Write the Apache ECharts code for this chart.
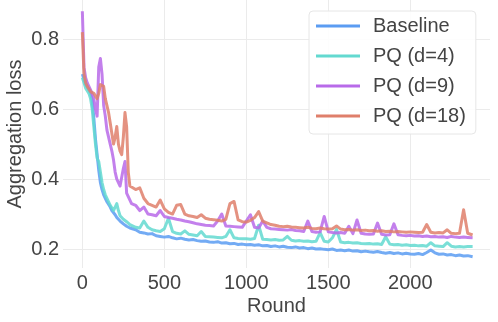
<!DOCTYPE html>
<html>
<head>
<meta charset="utf-8">
<script src="https://cdn.jsdelivr.net/npm/echarts@6/dist/echarts.min.js"></script>
<style>
  html, body { margin: 0; padding: 0; background: #fff; }
  #main { width: 498px; height: 322px; }
</style>
</head>
<body>
<div id="main"></div>
<script>
const rounds = [0, 10, 20, 30, 40, 50, 60, 70, 80, 90, 100, 110, 120, 130, 140, 150, 160, 170, 180, 190,
  200, 210, 220, 230, 240, 250, 260, 270, 280, 290, 300,
  325, 350, 375, 400, 425, 450, 475, 500, 525, 550, 575, 600, 625, 650, 675, 700, 725, 750, 775,
  800, 825, 850, 875, 900, 925, 950, 975, 1000, 1025, 1050, 1075, 1100, 1125, 1150, 1175, 1200, 1225, 1250, 1275,
  1300, 1325, 1350, 1375, 1400, 1425, 1450, 1475, 1500, 1525, 1550, 1575, 1600, 1625, 1650, 1675, 1700, 1725, 1750, 1775,
  1800, 1825, 1850, 1875, 1900, 1925, 1950, 1975, 2000, 2025, 2050, 2075, 2100, 2125, 2150, 2175, 2200, 2225, 2250, 2275,
  2300, 2325, 2350, 2380];

const baseline = [.70, .685, .67, .665, .655, .645, .625, .575, .515, .47, .425, .39, .37, .355, .345, .335, .33, .32, .31, .305,
  .298, .29, .285, .28, .275, .272, .268, .265, .262, .26, .258,
  .255, .248, .246, .243, .244, .238, .236, .234, .236, .232, .229, .231, .228, .226, .227, .224, .222, .223, .220,
  .219, .221, .217, .218, .215, .216, .213, .214, .212, .213, .211, .212, .209, .21, .207, .209, .206, .208, .205, .204,
  .206, .203, .204, .201, .203, .2, .201, .199, .198, .2, .196, .197, .195, .197, .194, .195, .192, .194, .192, .191,
  .193, .19, .188, .19, .187, .189, .186, .188, .186, .185, .187, .184, .19, .197, .189, .185, .186, .183, .184, .181,
  .183, .18, .181, .178];

const pqD4 = [.69, .675, .66, .655, .645, .63, .60, .55, .50, .46, .45, .42, .39, .37, .355, .345, .335, .325, .318, .31,
  .305, .33, .31, .295, .29, .285, .28, .278, .275, .27, .268,
  .262, .26, .28, .262, .255, .252, .25, .258, .288, .25, .245, .243, .252, .242, .24, .238, .25, .236, .235,
  .234, .233, .232, .236, .255, .232, .23, .229, .229, .228, .23, .268, .228, .227, .226, .227, .225, .226, .236, .225,
  .223, .224, .222, .223, .221, .222, .247, .222, .22, .232, .256, .22, .218, .219, .217, .218, .216, .215, .216, .214,
  .215, .213, .235, .214, .212, .213, .211, .212, .21, .211, .209, .21, .208, .218, .209, .208, .207, .218, .208, .206,
  .207, .206, .207, .207];

const pqD9 = [.88, .72, .69, .675, .665, .655, .65, .63, .60, .58, .72, .745, .70, .61, .58, .54, .52, .50, .48, .455,
  .42, .40, .39, .38, .385, .43, .45, .36, .35, .34, .33,
  .325, .31, .32, .30, .298, .295, .31, .293, .29, .288, .285, .283, .28, .278, .275, .272, .27, .268, .267,
  .266, .28, .30, .266, .265, .264, .263, .262, .28, .298, .262, .26, .28, .262, .258, .257, .256, .255, .254, .256,
  .253, .252, .25, .28, .25, .248, .249, .293, .249, .247, .246, .247, .245, .265, .244, .283, .245, .243, .242, .243,
  .274, .242, .24, .241, .272, .241, .239, .238, .239, .237, .238, .236, .237, .235, .236, .234, .235, .233, .236, .234,
  .233, .234, .233, .232];

const pqD18 = [.82, .70, .675, .665, .66, .65, .648, .645, .64, .63, .645, .67, .675, .665, .63, .61, .59, .56, .53, .50,
  .52, .55, .50, .48, .47, .52, .59, .55, .42, .38, .375,
  .37, .375, .345, .33, .325, .32, .34, .315, .305, .30, .325, .327, .30, .295, .293, .29, .298, .288, .285,
  .284, .282, .28, .285, .33, .336, .283, .278, .277, .282, .29, .307, .28, .275, .27, .268, .265, .264, .265, .263,
  .262, .261, .26, .262, .259, .258, .26, .258, .257, .258, .266, .257, .255, .256, .254, .255, .253, .254, .252, .253,
  .251, .252, .25, .251, .249, .25, .249, .248, .249, .248, .247, .248, .27, .248, .246, .247, .246, .255, .245, .244,
  .245, .312, .245, .24];

const seriesNames = ['Baseline', 'PQ (d=4)', 'PQ (d=9)', 'PQ (d=18)'];
const seriesColors = ['#5b9cf2', '#63d9d0', '#b86ae9', '#df7f6b'];
const xTicks = [0, 500, 1000, 1500, 2000];
const yTicks = [0.2, 0.4, 0.6, 0.8];

const font = '"Liberation Sans", Arial, sans-serif';
const textColor = '#444';

function pairs(vals) {
  return rounds.map((r, i) => [r, vals[i]]);
}

const allValues = [baseline, pqD4, pqD9, pqD18];

const chart = echarts.init(document.getElementById('main'), null, { renderer: 'canvas' });

chart.setOption({
  animation: false,
  backgroundColor: '#fff',
  textStyle: { fontFamily: font },
  grid: { left: 63, right: 8, top: 0, bottom: 54, containLabel: false, outerBoundsMode: 'none' },
  legend: {
    left: 309, top: 11,
    orient: 'vertical',
    padding: [5, 10, 8, 7],
    itemWidth: 44, itemHeight: 14, itemGap: 10,
    backgroundColor: 'rgba(255,255,255,0.9)',
    borderColor: '#e6e6e6', borderWidth: 1, borderRadius: 4,
    textStyle: { fontSize: 20, color: textColor, fontFamily: font, padding: [0, 0, 0, 8] },
    data: seriesNames.map(n => ({ name: n, icon: 'path://M0,0 L44,0 L44,3 L0,3 Z' }))
  },
  xAxis: {
    type: 'value',
    min: -118, max: 2486,
    name: 'Round', nameLocation: 'middle', nameGap: 28, nameMoveOverlap: false,
    nameTextStyle: { fontSize: 20, color: textColor, fontFamily: font },
    axisLine: { show: false },
    axisTick: { show: false, customValues: xTicks },
    axisLabel: { customValues: xTicks, fontSize: 20, color: textColor, margin: 5, fontFamily: font,
      formatter: v => String(v) },
    splitLine: { show: true, lineStyle: { color: '#ebebeb', width: 1 } }
  },
  yAxis: {
    type: 'value',
    min: 0.1457, max: 0.912,
    name: 'Aggregation loss', nameLocation: 'middle', nameGap: 38, nameMoveOverlap: false,
    nameTextStyle: { fontSize: 20, color: textColor, fontFamily: font },
    axisLine: { show: false },
    axisTick: { show: false, customValues: yTicks },
    axisLabel: { customValues: yTicks, fontSize: 20, color: textColor, margin: 4, fontFamily: font,
      formatter: v => v.toFixed(1) },
    splitLine: { show: true, lineStyle: { color: '#ebebeb', width: 1 } }
  },
  series: seriesNames.map((name, i) => ({
    name: name,
    type: 'line',
    data: pairs(allValues[i]),
    showSymbol: false,
    symbol: 'none',
    clip: true,
    color: seriesColors[i],
    lineStyle: { width: 3, opacity: 0.85, join: 'round' }
  }))
});
</script>
</body>
</html>
